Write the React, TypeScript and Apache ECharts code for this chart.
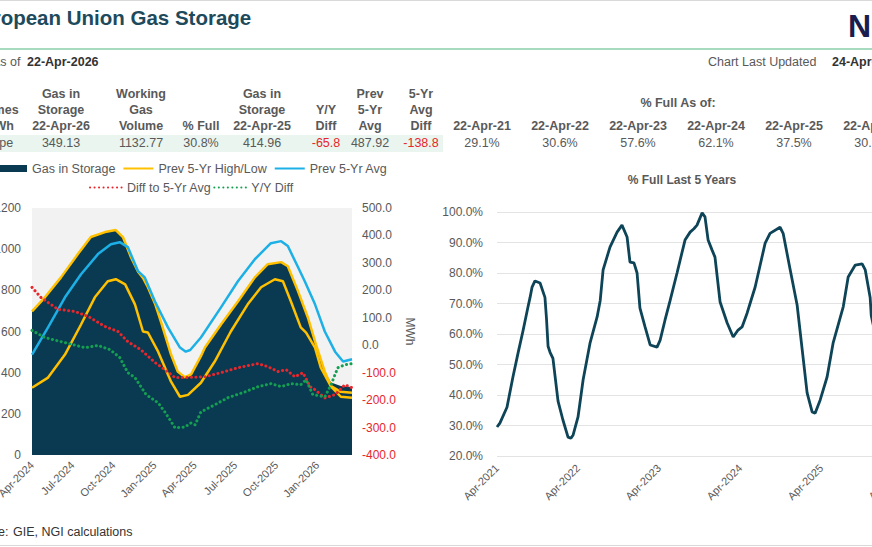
import React, { useEffect, useRef } from "react";
import * as echarts from "echarts";

// ---------- DATA ----------
const titleText = "European Union Gas Storage";
const asOfLabel = "As of";
const asOfDate = "22-Apr-2026";
const updatedLabel = "Chart Last Updated";
const updatedDate = "24-Apr-2026";
const logoText = "NGI";
const sourceLabel = "Source:";
const sourceText = "GIE, NGI calculations";

const headerRow1 = ["", "Gas in", "Working", "", "Gas in", "", "Prev", "5-Yr"];
const headerRow2 = ["Volumes", "Storage", "Gas", "", "Storage", "Y/Y", "5-Yr", "Avg"];
const headerRow3 = ["in TWh", "22-Apr-26", "Volume", "% Full", "22-Apr-25", "Diff", "Avg", "Diff"];
const rowValues = ["Europe", "349.13", "1132.77", "30.8%", "414.96", "-65.8", "487.92", "-138.8"];

const fullAsOfTitle = "% Full As of:";
const fullAsOfDates = ["22-Apr-21", "22-Apr-22", "22-Apr-23", "22-Apr-24", "22-Apr-25", "22-Apr-26"];
const fullAsOfValues = ["29.1%", "30.6%", "57.6%", "62.1%", "37.5%", "30.8%"];

const rightChartTitle = "% Full Last 5 Years";
const rightAxisName = "MWh";

const leftTickDates = ["2024-04-01", "2024-07-01", "2024-10-01", "2025-01-01", "2025-04-01", "2025-07-01", "2025-10-01", "2026-01-01"];
const rightTickDates = ["2021-04-01", "2022-04-01", "2023-04-01", "2024-04-01", "2025-04-01", "2026-04-01"];
const monthNames = ["Jan", "Feb", "Mar", "Apr", "May", "Jun", "Jul", "Aug", "Sep", "Oct", "Nov", "Dec"];

const gasInStorage: [string, number][] = [
  ["2024-04-01", 698], ["2024-04-30", 766], ["2024-06-05", 863], ["2024-07-13", 976],
  ["2024-08-11", 1059], ["2024-09-12", 1083], ["2024-10-06", 1093], ["2024-10-22", 1059],
  ["2024-11-09", 961], ["2024-11-25", 890], ["2024-12-06", 860], ["2024-12-17", 815],
  ["2025-01-02", 735], ["2025-01-15", 649], ["2025-02-07", 488], ["2025-02-22", 405],
  ["2025-03-10", 378], ["2025-03-24", 392], ["2025-04-15", 480], ["2025-04-24", 522],
  ["2025-05-30", 634], ["2025-07-07", 746], ["2025-08-14", 863], ["2025-09-12", 927],
  ["2025-10-12", 937], ["2025-10-27", 917], ["2025-11-19", 795], ["2025-12-11", 668],
  ["2025-12-29", 537], ["2026-01-18", 405], ["2026-02-01", 352], ["2026-02-23", 335],
  ["2026-03-20", 330],
];

const prev5YrHigh: [string, number][] = [
  ["2024-04-01", 698], ["2024-04-30", 766], ["2024-06-05", 863], ["2024-07-13", 976],
  ["2024-08-11", 1059], ["2024-09-12", 1083], ["2024-10-06", 1093], ["2024-10-22", 1059],
  ["2024-11-09", 961], ["2024-11-25", 890], ["2024-12-06", 860], ["2024-12-17", 815],
  ["2025-01-02", 735], ["2025-01-15", 649], ["2025-02-07", 488], ["2025-02-22", 405],
  ["2025-03-10", 378], ["2025-03-24", 392], ["2025-04-15", 480], ["2025-04-24", 522],
  ["2025-05-30", 634], ["2025-07-07", 746], ["2025-08-14", 863], ["2025-09-12", 927],
  ["2025-10-12", 937], ["2025-10-27", 917], ["2025-11-19", 795], ["2025-12-11", 668],
  ["2025-12-29", 537], ["2026-01-18", 405], ["2026-02-01", 335], ["2026-02-23", 307],
  ["2026-03-20", 302],
];

const prev5YrLow: [string, number][] = [
  ["2024-04-01", 327], ["2024-05-07", 376], ["2024-06-14", 488], ["2024-07-20", 634],
  ["2024-08-20", 766], ["2024-09-18", 844], ["2024-10-06", 854], ["2024-10-27", 829],
  ["2024-11-18", 732], ["2024-12-06", 600], ["2024-12-17", 595], ["2025-01-09", 502],
  ["2025-02-07", 356], ["2025-02-27", 283], ["2025-03-17", 292], ["2025-04-15", 351],
  ["2025-05-16", 454], ["2025-06-21", 600], ["2025-07-29", 732], ["2025-08-28", 815],
  ["2025-09-28", 854], ["2025-10-16", 844], ["2025-11-03", 746], ["2025-11-25", 620],
  ["2025-12-07", 595], ["2025-12-27", 522], ["2026-01-09", 424], ["2026-02-01", 332],
  ["2026-02-23", 283], ["2026-03-20", 278],
];

const prev5YrAvg: [string, number][] = [
  ["2024-04-01", 488], ["2024-05-07", 620], ["2024-06-14", 766], ["2024-07-20", 878],
  ["2024-08-27", 976], ["2024-09-25", 1024], ["2024-10-15", 1034], ["2024-11-02", 1010],
  ["2024-11-25", 893], ["2024-12-10", 863], ["2025-01-02", 746], ["2025-01-31", 620],
  ["2025-02-27", 522], ["2025-03-12", 502], ["2025-03-22", 510], ["2025-04-15", 571],
  ["2025-05-30", 717], ["2025-07-07", 844], ["2025-08-14", 951], ["2025-09-19", 1029],
  ["2025-10-12", 1039], ["2025-10-27", 1015], ["2025-11-19", 912], ["2025-12-04", 844],
  ["2025-12-27", 732], ["2026-01-18", 600], ["2026-02-10", 502], ["2026-02-28", 454],
  ["2026-03-20", 465],
];

const diffTo5YrAvg: [string, number][] = [
  ["2024-04-01", 211], ["2024-04-21", 174], ["2024-05-29", 131], ["2024-07-06", 123],
  ["2024-08-05", 105], ["2024-09-12", 68], ["2024-10-11", 50], ["2024-11-02", 13],
  ["2024-12-01", -16], ["2025-01-02", -63], ["2025-01-24", -89], ["2025-02-16", -118],
  ["2025-03-10", -118], ["2025-04-24", -115], ["2025-05-30", -100], ["2025-07-07", -82],
  ["2025-08-21", -67], ["2025-09-12", -78], ["2025-10-05", -96], ["2025-10-23", -89],
  ["2025-11-12", -115], ["2025-11-30", -100], ["2025-12-16", -151], ["2025-12-27", -162],
  ["2026-01-18", -192], ["2026-02-10", -180], ["2026-03-04", -144], ["2026-03-20", -155],
];

const yoyDiff: [string, number][] = [
  ["2024-04-01", 54], ["2024-04-30", 28], ["2024-06-05", 13], ["2024-07-29", -9],
  ["2024-08-27", -1], ["2024-09-23", -16], ["2024-10-15", -45], ["2024-11-02", -100],
  ["2024-11-18", -118], ["2024-12-13", -180], ["2025-01-09", -210], ["2025-01-24", -243],
  ["2025-02-16", -301], ["2025-03-10", -298], ["2025-03-24", -283], ["2025-04-02", -290],
  ["2025-04-15", -243], ["2025-05-16", -217], ["2025-06-15", -191], ["2025-07-23", -170],
  ["2025-08-21", -151], ["2025-09-19", -140], ["2025-10-12", -151], ["2025-11-03", -140],
  ["2025-11-25", -144], ["2025-12-07", -126], ["2025-12-22", -180], ["2026-01-18", -188],
  ["2026-02-01", -144], ["2026-02-16", -82], ["2026-03-04", -71], ["2026-03-20", -67],
];

const pctFull5Yr: [string, number][] = [
  ["2021-04-01", 29.5], ["2021-04-14", 30.8], ["2021-05-16", 36], ["2021-06-12", 46],
  ["2021-07-05", 53.8], ["2021-07-27", 61], ["2021-08-19", 69], ["2021-08-28", 72],
  ["2021-09-06", 75.4], ["2021-09-19", 77.4], ["2021-10-12", 76.7], ["2021-11-03", 72],
  ["2021-11-10", 65], ["2021-11-17", 56], ["2021-11-26", 54], ["2021-12-09", 52],
  ["2022-01-01", 38], ["2022-01-23", 31.8], ["2022-02-15", 26.2], ["2022-02-28", 25.8],
  ["2022-03-10", 26.9], ["2022-04-01", 32.8], ["2022-04-24", 45], ["2022-05-25", 57],
  ["2022-06-26", 65.6], ["2022-07-10", 71], ["2022-07-23", 81], ["2022-08-23", 88.5],
  ["2022-09-24", 93.4], ["2022-10-16", 95.7], ["2022-11-08", 91.8], ["2022-11-21", 83.6],
  ["2022-12-09", 83.3], ["2022-12-23", 80], ["2023-01-05", 68.5], ["2023-01-28", 62.3],
  ["2023-02-20", 56.4], ["2023-03-23", 55.7], ["2023-04-06", 58], ["2023-04-28", 64.6],
  ["2023-05-21", 71], ["2023-06-21", 80], ["2023-07-27", 90.8], ["2023-08-19", 93.4],
  ["2023-09-05", 94.5], ["2023-09-19", 95.7], ["2023-10-12", 99.7], ["2023-10-25", 98.4],
  ["2023-11-08", 90.8], ["2023-11-26", 87.5], ["2023-12-09", 85.2], ["2024-01-01", 70.5],
  ["2024-02-02", 63.6], ["2024-02-29", 59], ["2024-03-22", 61.3], ["2024-04-09", 62.3],
  ["2024-05-02", 66.9], ["2024-05-15", 70], ["2024-06-07", 75.4], ["2024-07-22", 89.8],
  ["2024-08-13", 93], ["2024-09-27", 95], ["2024-10-11", 93], ["2024-11-12", 81],
  ["2024-12-13", 69.5], ["2025-01-05", 54.8], ["2025-01-27", 40.7], ["2025-02-19", 34.4],
  ["2025-03-04", 34], ["2025-03-27", 38.4], ["2025-04-27", 45.9], ["2025-05-24", 57],
  ["2025-07-09", 69], ["2025-07-31", 78.7], ["2025-09-01", 82.6], ["2025-10-02", 83],
  ["2025-10-16", 81], ["2025-11-07", 72], ["2025-11-12", 66], ["2025-11-30", 60],
  ["2025-12-22", 50], ["2026-02-05", 38], ["2026-03-09", 32], ["2026-04-05", 29.5],
  ["2026-04-22", 30.8],
];

// ---------- LAYOUT / STYLE ----------
const FONT = "Arial, 'Liberation Sans', sans-serif";
const GRAY = "#595959";
const RED = "#e8262b";
const colCenters = [-7, 61, 141, 201, 262, 326, 370, 421];
const redCols = [5, 7];
const fullCenters = [482, 560, 638, 716, 794, 872];

const ts = (s: string) => {
  const [y, m, d] = s.split("-").map(Number);
  return new Date(y, m - 1, d).getTime();
};
const toSeries = (arr: [string, number][]) => arr.map(([d, v]) => [ts(d), v]);
const fmtMonth = (v: number) => {
  const d = new Date(Number(v));
  return monthNames[d.getMonth()] + "-" + d.getFullYear();
};

function txt(text: string, x: number, y: number, opts: any = {}) {
  return {
    type: "text",
    x,
    y,
    silent: true,
    style: {
      text,
      fill: opts.fill || GRAY,
      font: `${opts.bold ? "bold " : ""}${opts.size || 12.5}px ${FONT}`,
      textAlign: opts.align || "left",
      textVerticalAlign: "middle",
    },
  };
}

function buildGraphics() {
  const g: any[] = [];
  g.push({ type: "line", shape: { x1: 0, y1: 0.5, x2: 872, y2: 0.5 }, style: { stroke: "#d9d9d9", lineWidth: 1 } });
  g.push(txt(titleText, -33.5, 17.5, { bold: true, size: 20.5, fill: "#1e4a5b" }));
  g.push(txt(logoText, 848, 26, { bold: true, size: 32, fill: "#1a1d4d" }));
  g.push({ type: "line", shape: { x1: 0, y1: 49, x2: 872, y2: 49 }, style: { stroke: "#a6dbbf", lineWidth: 2 } });
  g.push(txt(asOfLabel, -8, 62));
  g.push(txt(asOfDate, 27, 62, { bold: true, fill: "#333333" }));
  g.push(txt(updatedLabel, 708, 62));
  g.push(txt(updatedDate, 832, 62, { bold: true, fill: "#333333" }));
  g.push({ type: "rect", shape: { x: 0, y: 135, width: 443, height: 17 }, style: { fill: "#e9f5ee" } });
  const rows = [headerRow1, headerRow2, headerRow3];
  const rowY = [94, 110, 126];
  rows.forEach((row, ri) => {
    row.forEach((t, ci) => {
      if (t) g.push(txt(t, colCenters[ci], rowY[ri], { bold: true, align: "center" }));
    });
  });
  rowValues.forEach((t, ci) => {
    g.push(txt(t, colCenters[ci], 143, { align: "center", fill: redCols.includes(ci) ? RED : GRAY }));
  });
  g.push(txt(fullAsOfTitle, 678, 103, { bold: true, align: "center" }));
  fullAsOfDates.forEach((t, i) => g.push(txt(t, fullCenters[i], 126, { bold: true, align: "center" })));
  fullAsOfValues.forEach((t, i) => g.push(txt(t, fullCenters[i], 143, { align: "center" })));
  g.push(txt(rightChartTitle, 682, 180, { bold: true, size: 12, align: "center" }));
  g.push(txt(sourceLabel, 8.5, 532, { align: "right", fill: "#333333" }));
  g.push(txt(sourceText, 13, 532, { fill: "#333333" }));
  g.push({ type: "line", shape: { x1: 0, y1: 545.5, x2: 872, y2: 545.5 }, style: { stroke: "#d9d9d9", lineWidth: 1 } });
  return g;
}

const dotted = (color: string) => ({
  color,
  width: 3,
  type: [0.1, 4.4],
  cap: "round",
});

export default function App() {
  const ref = useRef<HTMLDivElement>(null);
  useEffect(() => {
    if (!ref.current) return;
    const chart = echarts.init(ref.current, undefined, { renderer: "svg" });
    const axisText = { color: GRAY, fontSize: 12, fontFamily: FONT };
    const legendText = { color: GRAY, fontSize: 12.5, fontFamily: FONT };
    const option: any = {
      animation: false,
      backgroundColor: "#ffffff",
      textStyle: { fontFamily: FONT },
      graphic: { elements: buildGraphics() },
      legend: [
        {
          left: -8,
          top: 157,
          itemWidth: 30,
          itemHeight: 7,
          itemGap: 7,
          selectedMode: false,
          itemStyle: { opacity: 0 },
          textStyle: legendText,
          data: [
            { name: "Gas in Storage", icon: "rect", itemStyle: { opacity: 1, color: "#0a3a52" } },
            "Prev 5-Yr High/Low",
            "Prev 5-Yr Avg",
          ],
        },
        {
          left: 84,
          top: 176,
          itemWidth: 32,
          itemHeight: 7,
          itemGap: 2,
          selectedMode: false,
          itemStyle: { opacity: 0 },
          textStyle: legendText,
          data: ["Diff to 5-Yr Avg", "Y/Y Diff"],
        },
      ],
      grid: [
        {
          left: 32, top: 208, width: 320, height: 247, show: true, backgroundColor: "#f2f2f2",
          borderWidth: 0, containLabel: false, outerBoundsMode: "none",
        },
        { left: 497, top: 212, right: -35, bottom: 91, containLabel: false, outerBoundsMode: "none" },
      ],
      xAxis: [
        {
          type: "value",
          gridIndex: 0,
          min: ts("2024-04-01"),
          max: ts("2026-03-20"),
          axisLine: { show: false },
          axisTick: { show: false },
          splitLine: { show: false },
          axisLabel: {
            ...axisText,
            fontSize: 11,
            rotate: 45,
            margin: 8,
            customValues: leftTickDates.map(ts),
            formatter: (v: number) => fmtMonth(v),
          },
        },
        {
          type: "value",
          gridIndex: 1,
          min: ts("2021-04-01"),
          max: ts("2026-04-22"),
          axisLine: { show: false },
          axisTick: { show: false },
          splitLine: { show: false },
          axisLabel: {
            ...axisText,
            fontSize: 11,
            rotate: 45,
            margin: 10,
            customValues: rightTickDates.map(ts),
            formatter: (v: number) => fmtMonth(v),
          },
        },
      ],
      yAxis: [
        {
          type: "value",
          gridIndex: 0,
          min: 0,
          max: 1200,
          interval: 200,
          axisLine: { show: false },
          axisTick: { show: false },
          splitLine: { show: false },
          axisLabel: { ...axisText, margin: 11, formatter: (v: number) => String(v) },
        },
        {
          type: "value",
          gridIndex: 0,
          position: "right",
          min: -400,
          max: 500,
          interval: 100,
          name: rightAxisName,
          nameLocation: "middle",
          nameRotate: -90,
          nameGap: 52,
          nameTextStyle: { color: GRAY, fontSize: 12, fontFamily: FONT },
          axisLine: { show: false },
          axisTick: { show: false },
          splitLine: { show: false },
          axisLabel: {
            ...axisText,
            margin: 10,
            formatter: (v: number) => Number(v).toFixed(1),
            color: (v: any) => (Number(v) < 0 ? RED : GRAY),
          },
        },
        {
          type: "value",
          gridIndex: 1,
          min: 20,
          max: 100,
          interval: 10,
          axisLine: { show: false },
          axisTick: { show: false },
          splitLine: { show: true, lineStyle: { color: "#e3e3e3", width: 1 } },
          axisLabel: { ...axisText, margin: 14, formatter: (v: number) => Number(v).toFixed(1) + "%" },
        },
      ],
      series: [
        {
          name: "Gas in Storage",
          type: "line",
          xAxisIndex: 0,
          yAxisIndex: 0,
          symbol: "none",
          data: toSeries(gasInStorage),
          lineStyle: { width: 0, color: "#0a3a52" },
          itemStyle: { color: "#0a3a52" },
          areaStyle: { color: "#0a3a52", opacity: 1 },
          z: 1,
        },
        {
          name: "Prev 5-Yr High/Low",
          type: "line",
          xAxisIndex: 0,
          yAxisIndex: 0,
          symbol: "none",
          data: toSeries(prev5YrHigh),
          lineStyle: { width: 2.5, color: "#ffc000" },
          itemStyle: { color: "#ffc000" },
          z: 2,
        },
        {
          name: "Prev 5-Yr High/Low",
          type: "line",
          xAxisIndex: 0,
          yAxisIndex: 0,
          symbol: "none",
          data: toSeries(prev5YrLow),
          lineStyle: { width: 2.5, color: "#ffc000" },
          itemStyle: { color: "#ffc000" },
          z: 2,
        },
        {
          name: "Prev 5-Yr Avg",
          type: "line",
          xAxisIndex: 0,
          yAxisIndex: 0,
          symbol: "none",
          data: toSeries(prev5YrAvg),
          lineStyle: { width: 2.5, color: "#1cb0e6" },
          itemStyle: { color: "#1cb0e6" },
          z: 3,
        },
        {
          name: "Diff to 5-Yr Avg",
          type: "line",
          xAxisIndex: 0,
          yAxisIndex: 1,
          symbol: "none",
          data: toSeries(diffTo5YrAvg),
          lineStyle: dotted("#e8262b"),
          itemStyle: { color: "#e8262b" },
          z: 4,
        },
        {
          name: "Y/Y Diff",
          type: "line",
          xAxisIndex: 0,
          yAxisIndex: 1,
          symbol: "none",
          data: toSeries(yoyDiff),
          lineStyle: dotted("#14a050"),
          itemStyle: { color: "#14a050" },
          z: 4,
        },
        {
          name: "% Full",
          type: "line",
          xAxisIndex: 1,
          yAxisIndex: 2,
          symbol: "none",
          data: toSeries(pctFull5Yr),
          lineStyle: { width: 2.8, color: "#0e4457" },
          itemStyle: { color: "#0e4457" },
          z: 3,
        },
      ],
    };
    chart.setOption(option);
    return () => chart.dispose();
  }, []);
  return (
    <div style={{ position: "absolute", left: 0, top: 0, width: 872, height: 547, overflow: "hidden" }}>
      <div ref={ref} style={{ width: 872, height: 547 }} />
    </div>
  );
}
